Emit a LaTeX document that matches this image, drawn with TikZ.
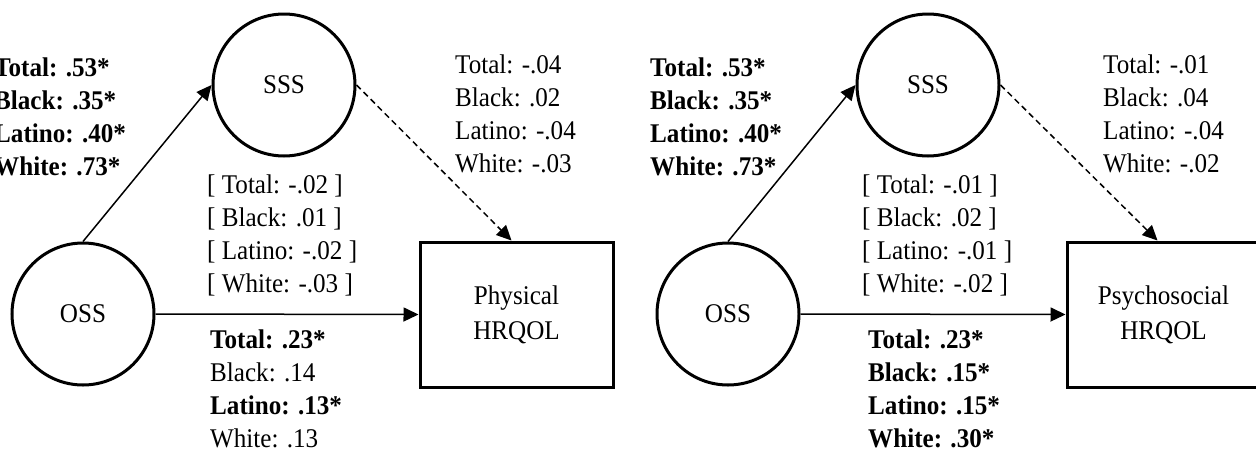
\documentclass[tikz,border=0pt]{standalone}
\usepackage{fontspec}
\setmainfont{Liberation Serif}[FakeStretch=0.93]
\usetikzlibrary{arrows.meta}

\begin{document}
\begin{tikzpicture}[x=1pt,y=-1pt,
  every node/.style={font=\fontsize{27}{35}\selectfont},
  latent/.style={draw, circle, line width=3pt, minimum size=142pt, inner sep=0pt},
  outcome/.style={draw, rectangle, line width=3pt, minimum width=193pt, minimum height=145pt, align=center, inner sep=0pt},
  coef/.style={anchor=base west, inner sep=0pt},
  strong/.style={coef, font=\fontsize{27}{35}\selectfont\bfseries},
  path/.style={line width=1.5pt, -{Triangle[length=15pt,width=14pt]}},
  indirect/.style={path, dash pattern=on 6pt off 4pt}]
\useasboundingbox (0,0) rectangle (1256,453);

% ---------- Physical HRQOL model ----------
\node[latent] (sssL) at (284,85) {SSS};
\node[latent] (ossL) at (83,314) {OSS};
\node[outcome] (boxL) at (516.5,314.5) {Physical\\HRQOL};

\draw[path] (ossL.north) -- (sssL.west);
\draw[path] (ossL.east) -- (boxL.west);
\draw[indirect] (sssL.east) -- ([xshift=-5pt]boxL.north);

\foreach \t [count=\i] in {Total: .53*, Black: .35*, Latino: .40*, White: .73*}
  \node[strong] (aL\i) at (-6,{76+33*(\i-1)}) {\t};
\foreach \t [count=\i] in {Total: -.04, Black: .02, Latino: -.04, White: -.03}
  \node[coef] (bL\i) at (455,{73+33*(\i-1)}) {\t};
\foreach \t [count=\i] in {[ Total: -.02 ], [ Black: .01 ], [ Latino: -.02 ], [ White: -.03 ]}
  \node[coef] (cL\i) at (207,{193+33*(\i-1)}) {\t};
\foreach \t [count=\i] in {\textbf{Total: .23*}, Black: .14, \textbf{Latino: .13*}, White: .13}
  \node[coef] (dL\i) at (210,{348+33*(\i-1)}) {\t};

% ---------- Psychosocial HRQOL model ----------
\node[latent] (sssR) at (928,85) {SSS};
\node[latent] (ossR) at (728,314) {OSS};
\node[outcome] (boxR) at (1163.5,314.5) {Psychosocial\\HRQOL};

\draw[path] (ossR.north) -- (sssR.west);
\draw[path] (ossR.east) -- (boxR.west);
\draw[indirect] (sssR.east) -- ([xshift=-6pt]boxR.north);

\foreach \t [count=\i] in {Total: .53*, Black: .35*, Latino: .40*, White: .73*}
  \node[strong] (aR\i) at (650,{76+33*(\i-1)}) {\t};
\foreach \t [count=\i] in {Total: -.01, Black: .04, Latino: -.04, White: -.02}
  \node[coef] (bR\i) at (1103,{73+33*(\i-1)}) {\t};
\foreach \t [count=\i] in {[ Total: -.01 ], [ Black: .02 ], [ Latino: -.01 ], [ White: -.02 ]}
  \node[coef] (cR\i) at (862,{193+33*(\i-1)}) {\t};
\foreach \t [count=\i] in {Total: .23*, Black: .15*, Latino: .15*, White: .30*}
  \node[strong] (dR\i) at (868,{348+33*(\i-1)}) {\t};
\end{tikzpicture}
\end{document}
